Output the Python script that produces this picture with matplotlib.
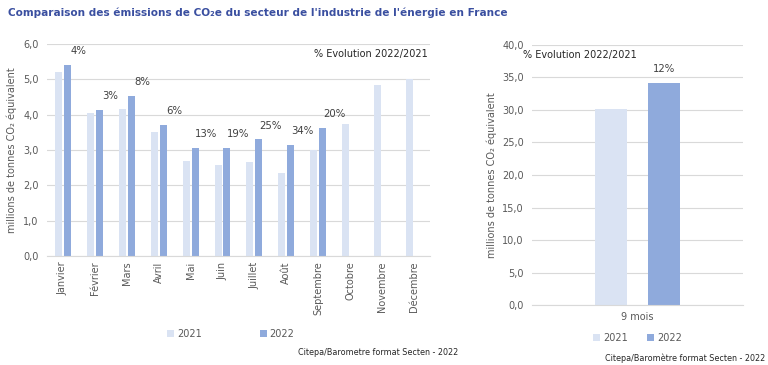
import numpy as np
import matplotlib.pyplot as plt

months = ['Janvier', 'Février', 'Mars', 'Avril', 'Mai', 'Juin', 'Juillet',
          'Août', 'Septembre', 'Octobre', 'Novembre', 'Décembre']
v2021 = [5.2, 4.05, 4.15, 3.5, 2.68, 2.57, 2.65, 2.35, 3.0, 3.75, 4.85, 5.0]
v2022 = [5.4, 4.13, 4.52, 3.7, 3.05, 3.07, 3.3, 3.15, 3.62]
evol = ['4%', '3%', '8%', '6%', '13%', '19%', '25%', '34%', '20%']

cumul_label = ['9 mois']
cumul_2021 = [30.2]
cumul_2022 = [34.1]
cumul_evol = ['12%']

c21 = '#DAE3F3'
c22 = '#8FAADC'
grid_c = '#D9D9D9'
txt_c = '#595959'

plt.rcParams['font.family'] = ['DejaVu Sans']
fig = plt.figure(figsize=(7.68, 3.65), dpi=100)

fig.text(0.010, 0.965, "Comparaison des émissions de CO₂e du secteur de l'industrie de l'énergie en France",
         color='#3A4FA0', fontsize=7.6, fontweight='bold', va='center', ha='left')

def style(ax, ymax, step):
    ax.set_ylim(0, ymax)
    ax.set_yticks(np.arange(0, ymax + step / 2, step))
    ax.set_yticklabels([('%.1f' % t).replace('.', ',') for t in np.arange(0, ymax + step / 2, step)],
                       fontsize=7, color=txt_c)
    ax.yaxis.grid(True, color=grid_c, lw=0.8)
    ax.set_axisbelow(True)
    for s in ['top', 'right', 'left']:
        ax.spines[s].set_visible(False)
    ax.spines['bottom'].set_color(grid_c)
    ax.tick_params(axis='y', length=0, pad=6)

# ---- monthly chart
ax1 = fig.add_axes([0.061, 0.299, 0.499, 0.580])
x = np.arange(len(months))
w = 0.22
ax1.bar(x - 0.14, v2021, w, color=c21, label='2021')
x22 = np.arange(len(v2022))
ax1.bar(x22 + 0.14, v2022, w, color=c22, label='2022')
for xi, v, t in zip(x22, v2022, evol):
    ax1.annotate(t, (xi + 0.14, v), xytext=(8, 10), textcoords='offset points',
                 ha='center', va='center', fontsize=7.3, color='#404040')
style(ax1, 6.0, 1.0)
ax1.set_xlim(-0.5, len(months) - 0.5)
ax1.set_xticks(x)
ax1.set_xticklabels(months, rotation=90, fontsize=7, color=txt_c)
ax1.tick_params(axis='x', length=0, pad=4)
ax1.set_ylabel('millions de tonnes CO₂ équivalent', fontsize=7, color=txt_c, labelpad=4)
ax1.text(0.995, 0.955, '% Evolution 2022/2021', transform=ax1.transAxes, ha='right', va='center',
         fontsize=7, color='#262626')
ax1.legend(loc='center', bbox_to_anchor=(0.48, -0.37), ncol=2, frameon=False, fontsize=7,
           handlelength=0.7, handleheight=0.7, columnspacing=6, handletextpad=0.3,
           labelcolor=txt_c)
fig.text(0.597, 0.033, 'Citepa/Barometre format Secten - 2022', fontsize=5.8, ha='right',
         va='center', color='#262626')

# ---- cumulative chart
ax2 = fig.add_axes([0.693, 0.164, 0.274, 0.713])
xc = np.arange(len(cumul_label))
ax2.bar(xc - 0.125, cumul_2021, 0.15, color=c21, label='2021')
ax2.bar(xc + 0.125, cumul_2022, 0.15, color=c22, label='2022')
for xi, v, t in zip(xc, cumul_2022, cumul_evol):
    ax2.annotate(t, (xi + 0.125, v), xytext=(0, 10), textcoords='offset points',
                 ha='center', va='center', fontsize=7.3, color='#404040')
style(ax2, 40.0, 5.0)
ax2.set_xlim(-0.5, 0.5)
ax2.set_xticks(xc)
ax2.set_xticklabels(cumul_label, fontsize=7, color=txt_c)
ax2.tick_params(axis='x', length=0, pad=5)
ax2.set_ylabel('millions de tonnes CO₂ équivalent', fontsize=7, color=txt_c, labelpad=4)
ax2.text(-0.045, 0.962, '% Evolution 2022/2021', transform=ax2.transAxes, ha='left', va='center',
         fontsize=7, color='#262626')
ax2.legend(loc='center', bbox_to_anchor=(0.5, -0.125), ncol=2, frameon=False, fontsize=7,
           handlelength=0.7, handleheight=0.7, columnspacing=2, handletextpad=0.3,
           labelcolor=txt_c)
fig.text(0.997, 0.006, 'Citepa/Baromètre format Secten - 2022', fontsize=5.8, ha='right',
         va='bottom', color='#262626')

fig.savefig('out.png', dpi=100)
